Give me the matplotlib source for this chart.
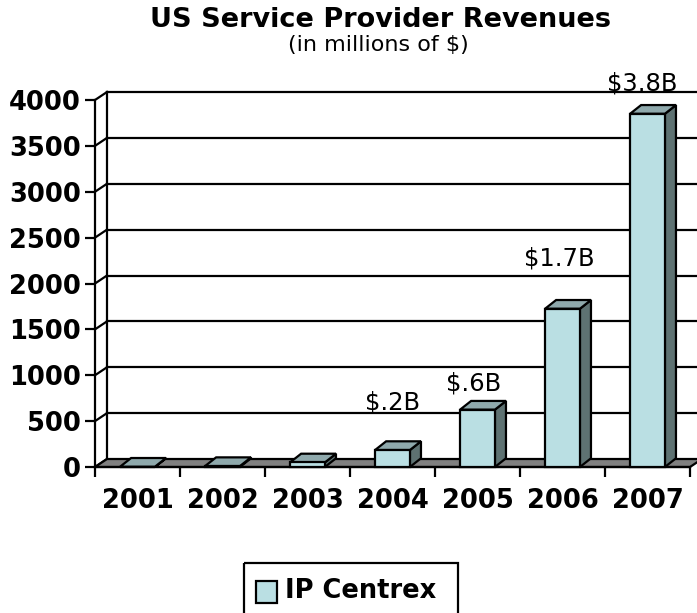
import matplotlib.pyplot as plt
from matplotlib.patches import Polygon, Rectangle

# data
years = ['2001', '2002', '2003', '2004', '2005', '2006', '2007']
revenue = [3, 10, 50, 185, 625, 1725, 3850]
bar_labels = ['', '', '', r'\$.2B', r'\$.6B', r'\$1.7B', r'\$3.8B']
label_shift = [(0, 0), (0, 0), (0, 0), (0, 48), (-4, 26), (-3, 50), (-5, 30)]  # pixels

front_c = '#BADFE3'
top_c = '#8FA9AC'
side_c = '#5E7272'
floor_c = '#808080'
LW = 1.6

W, H = 697, 613
fig = plt.figure(figsize=(W / 100, H / 100), dpi=100)

ax = fig.add_axes([95 / W, (H - 467) / H, 595 / W, 367 / H])
ax.set_xlim(-0.5, 6.5)
ax.set_ylim(0, 4000)

# depth of the 3d box (data units)
DX = 12 / 85
DY = 8 * 4000 / 367
BW = 0.41
BDX = 0.13
BDY = 95

for s in ['top', 'right']:
    ax.spines[s].set_visible(False)
ax.spines['left'].set_linewidth(LW)
ax.spines['bottom'].set_linewidth(LW)

yt = list(range(0, 4001, 500))
ax.set_yticks(yt)
ax.set_yticklabels([str(v) for v in yt], fontsize=18.5, fontweight='bold')
ax.tick_params(axis='y', direction='out', length=7, width=LW, pad=3)

ax.set_xticks([i - 0.5 for i in range(8)])
ax.set_xticklabels([])
ax.set_xticks(range(7), minor=True)
ax.set_xticklabels(years, minor=True, fontsize=18.5, fontweight='bold')
ax.tick_params(axis='x', which='major', direction='out', length=7, width=LW)
ax.tick_params(axis='x', which='minor', length=0, pad=15)

# back wall + side wall
for v in yt:
    if v > 0:
        ax.plot([-0.5 + DX, 6.5 + DX], [v + DY, v + DY], color='black', lw=LW, clip_on=False, zorder=1)
    ax.plot([-0.5, -0.5 + DX], [v, v + DY], color='black', lw=LW, clip_on=False, zorder=1)
ax.plot([-0.5 + DX, -0.5 + DX], [DY, 4000 + DY], color='black', lw=LW, clip_on=False, zorder=1)

# floor
floor = Polygon([(-0.5, 0), (6.5, 0), (6.5 + DX, DY), (-0.5 + DX, DY)],
                closed=True, fc=floor_c, ec='black', lw=LW, clip_on=False, zorder=2)
ax.add_patch(floor)

# bars
for i, v in enumerate(revenue):
    x0 = i - BW / 2
    x1 = i + BW / 2
    side = Polygon([(x1, 0), (x1 + BDX, BDY), (x1 + BDX, v + BDY), (x1, v)],
                   closed=True, fc=side_c, ec='black', lw=LW, clip_on=False, zorder=3)
    top = Polygon([(x0, v), (x1, v), (x1 + BDX, v + BDY), (x0 + BDX, v + BDY)],
                  closed=True, fc=top_c, ec='black', lw=LW, clip_on=False, zorder=3)
    front = Rectangle((x0, 0), BW, v, fc=front_c, ec='black', lw=LW, clip_on=False, zorder=4)
    ax.add_patch(side)
    ax.add_patch(top)
    ax.add_patch(front)
    if bar_labels[i]:
        ax.annotate(bar_labels[i], xy=(i, v), xytext=label_shift[i], textcoords='offset pixels',
                    ha='center', va='center', fontsize=17.5, zorder=5)

# overlay for title and legend
ov = fig.add_axes([0, 0, 1, 1])
ov.set_xlim(0, W)
ov.set_ylim(H, 0)
ov.axis('off')
ov.text(380, 20, 'US Service Provider Revenues', ha='center', va='center',
        fontsize=19.5, fontweight='bold')
ov.text(378, 45, '(in millions of \\$)', ha='center', va='center', fontsize=16)

ov.add_patch(Rectangle((244, 563), 214, 70, fill=False, ec='black', lw=LW, clip_on=False))
ov.add_patch(Rectangle((256, 581), 21, 22, fc=front_c, ec='black', lw=LW))
ov.text(285, 591, 'IP Centrex', ha='left', va='center', fontsize=18.5, fontweight='bold')

fig.savefig('out.png', dpi=100)
